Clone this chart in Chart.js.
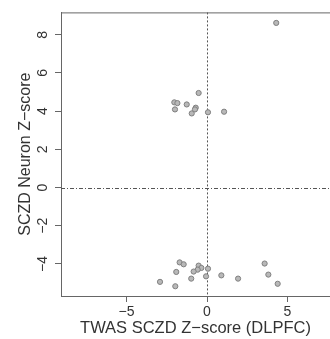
<!DOCTYPE html>
<html lang="en">
<head>
  <meta charset="UTF-8">
  <title>TWAS SCZD vs Neuron Z-score</title>
  <script src="https://cdn.jsdelivr.net/npm/chart.js"></script>
  <style>
    html, body { margin: 0; padding: 0; background: #fff; }
    #wrap { width: 330px; height: 339px; }
  </style>
</head>
<body>
  <div id="wrap"><canvas id="chart" width="330" height="339"></canvas></div>
  <script>
    // points
    const twasZ = [4.30, -0.52, -2.03, -1.84, -1.26, -0.70, -0.75, -1.99, -0.95, 0.06, 1.06,
                   -1.70, -1.45, -0.52, -0.35, 0.06, -0.58, -0.83, -1.91, -0.06, -0.98, 0.89,
                   1.93, -2.92, -1.97, 3.58, 3.81, 4.39];
    const neuronZ = [8.62, 4.95, 4.46, 4.42, 4.35, 4.18, 4.09, 4.09, 3.88, 3.94, 3.97,
                     -3.92, -4.02, -4.09, -4.21, -4.25, -4.30, -4.40, -4.42, -4.65, -4.77, -4.60,
                     -4.77, -4.94, -5.17, -3.98, -4.56, -5.04];
    const xTicks = [-5, 0, 5];
    const yTicks = [-4, -2, 0, 2, 4, 6, 8];
    const refX = 0, refY = 0;

    const fmt = v => String(v).replace('-', '\u2212');
    const axisColor = '#666';
    const textColor = '#333';

    const refLines = {
      id: 'refLines',
      beforeDatasetsDraw(chart) {
        const { ctx, chartArea: a, scales: { x, y } } = chart;
        ctx.save();
        ctx.strokeStyle = '#555';
        ctx.lineWidth = 1;
        ctx.setLineDash([2, 2]);
        const px = Math.round(x.getPixelForValue(refX)) + 0.5;
        ctx.beginPath(); ctx.moveTo(px, a.top); ctx.lineTo(px, a.bottom); ctx.stroke();
        ctx.setLineDash([4, 2, 1, 2]);
        const py = Math.round(y.getPixelForValue(refY)) + 0.5;
        ctx.beginPath(); ctx.moveTo(a.left, py); ctx.lineTo(a.right, py); ctx.stroke();
        // top side of the box
        ctx.setLineDash([]);
        ctx.strokeStyle = axisColor;
        ctx.beginPath(); ctx.moveTo(a.left, a.top + 0.5); ctx.lineTo(a.right, a.top + 0.5); ctx.stroke();
        ctx.restore();
      }
    };

    new Chart(document.getElementById('chart'), {
      type: 'scatter',
      data: {
        datasets: [{
          data: twasZ.map((v, i) => ({ x: v, y: neuronZ[i] })),
          pointRadius: 2.6,
          pointBorderWidth: 1,
          borderColor: '#808080',
          backgroundColor: '#b8b8b8'
        }]
      },
      options: {
        responsive: false,
        animation: false,
        layout: { autoPadding: false, padding: { top: 12, right: 0, left: 0, bottom: 0 } },
        plugins: { legend: { display: false }, tooltip: { enabled: false } },
        scales: {
          x: {
            min: -9.07, max: 7.64,
            afterFit(s) { s.height = 43; },
            afterBuildTicks(s) { s.ticks = xTicks.map(v => ({ value: v })); },
            grid: { drawOnChartArea: false, drawTicks: true, tickLength: 6, color: axisColor },
            border: { display: true, color: axisColor, width: 1 },
            ticks: { color: textColor, padding: 2, font: { family: 'Liberation Sans', size: 14 },
                     callback: v => fmt(v), maxRotation: 0 },
            title: { display: true, text: 'TWAS SCZD Z\u2212score (DLPFC)', color: textColor,
                     font: { family: 'Liberation Sans', size: 16.5, lineHeight: 1.2 },
                     padding: { top: 0, bottom: 0.4 } }
          },
          y: {
            min: -5.68, max: 9.17,
            afterFit(s) { s.width = 61; },
            afterBuildTicks(s) { s.ticks = yTicks.map(v => ({ value: v })); },
            grid: { drawOnChartArea: false, drawTicks: true, tickLength: 6, color: axisColor },
            border: { display: true, color: axisColor, width: 1 },
            ticks: { color: textColor, padding: 4, crossAlign: 'center', minRotation: 90, maxRotation: 90,
                     font: { family: 'Liberation Sans', size: 14 }, callback: v => fmt(v) },
            title: { display: true, text: 'SCZD Neuron Z\u2212score', color: textColor,
                     font: { family: 'Liberation Sans', size: 16, lineHeight: 1.2 },
                     padding: { top: 16.4, bottom: 0 } }
          }
        }
      },
      plugins: [refLines]
    });
  </script>
</body>
</html>
